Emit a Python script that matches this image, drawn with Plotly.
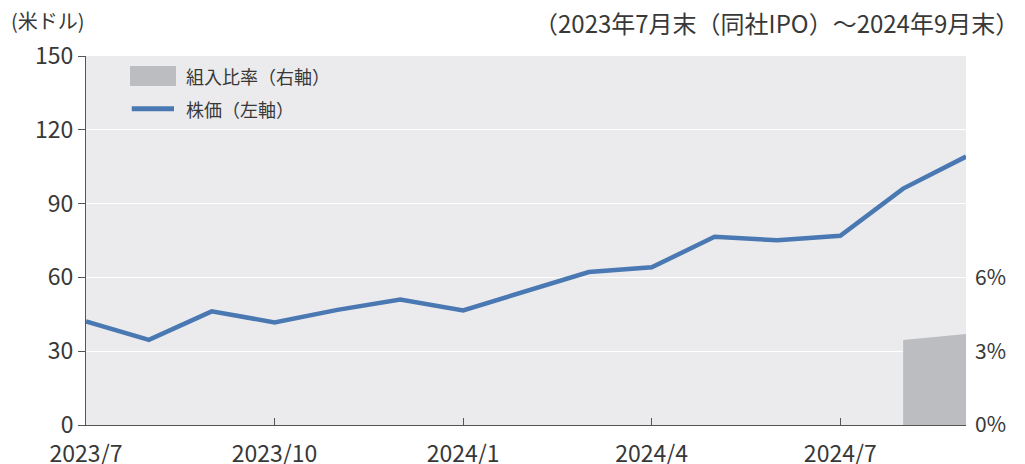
import plotly.graph_objects as go

months = ["2023/7", "2023/8", "2023/9", "2023/10", "2023/11", "2023/12",
          "2024/1", "2024/2", "2024/3", "2024/4", "2024/5", "2024/6",
          "2024/7", "2024/8", "2024/9"]
price = [42.1, 34.6, 46.2, 41.7, 46.8, 51.0, 46.6, 54.3, 62.2, 64.1,
         76.5, 75.1, 76.9, 96.1, 109.1]
weight_months = ["2024/8", "2024/9"]
weight = [3.46, 3.7]

x_ticks = ["2023/7", "2023/10", "2024/1", "2024/4", "2024/7"]
left_ticks = [0, 30, 60, 90, 120, 150]
right_ticks = [0, 3, 6]

FONT = "Noto Sans CJK JP"
TXT = "#383838"
LINE_C = "#4A78B2"
AREA_C = "#BCBDC1"

fig = go.Figure()
fig.add_trace(go.Scatter(x=weight_months, y=weight, yaxis="y2", mode="lines",
                         line=dict(width=0, color=AREA_C), fill="tozeroy",
                         fillcolor=AREA_C, showlegend=False, hoverinfo="skip"))
fig.add_trace(go.Scatter(x=months, y=price, mode="lines",
                         line=dict(width=4.5, color=LINE_C), showlegend=False))

fig.update_layout(
    width=1017, height=456,
    margin=dict(l=78, r=59, t=48, b=39, autoexpand=False),
    paper_bgcolor="white", plot_bgcolor="#EBEBED",
    font=dict(family=FONT, color=TXT, size=20),
    xaxis=dict(type="category", categoryorder="array", categoryarray=months,
               range=[0, 14], tickvals=x_ticks, ticktext=x_ticks,
               ticks="inside", ticklen=7, tickcolor="#555555",
               showline=True, linecolor="#555555", linewidth=1,
               showgrid=False, automargin=False, ticklabelstandoff=8,
               tickfont=dict(size=23, color=TXT)),
    yaxis=dict(range=[0, 150], tickvals=left_ticks, ticks="outside", ticklen=7,
               tickcolor="#555555", showline=True, linecolor="#555555",
               linewidth=1, gridcolor="white", gridwidth=1.2, zeroline=False,
               automargin=False, tickfont=dict(size=23, color=TXT)),
    yaxis2=dict(range=[0, 15], overlaying="y", side="right",
                tickvals=right_ticks, ticktext=[f"{v}%" for v in right_ticks],
                showgrid=False, zeroline=False, showline=False, ticks="",
                automargin=False, ticklabelstandoff=8,
                tickfont=dict(size=21, color=TXT)),
)

# legend (manual)
fig.add_shape(type="rect", xref="paper", yref="paper", x0=0.05, x1=0.1023,
              y0=0.919, y1=0.973, fillcolor=AREA_C, line=dict(width=0))
fig.add_shape(type="line", xref="paper", yref="paper", x0=0.052, x1=0.1,
              y0=0.857, y1=0.857, line=dict(color=LINE_C, width=5))
fig.add_annotation(text="組入比率（右軸）", xref="paper", yref="paper",
                   x=0.111, y=0.946, xanchor="left", yanchor="middle",
                   showarrow=False, font=dict(size=18, color=TXT))
fig.add_annotation(text="株価（左軸）", xref="paper", yref="paper",
                   x=0.111, y=0.857, xanchor="left", yanchor="middle",
                   showarrow=False, font=dict(size=18, color=TXT))

fig.add_annotation(text="(米ドル)", xref="paper", yref="paper",
                   x=-0.088, y=1.095, xanchor="left", yanchor="middle",
                   showarrow=False, font=dict(size=20, color=TXT))
fig.add_annotation(text="（2023年7月末（同社IPO）～2024年9月末）", xref="paper",
                   yref="paper", x=1.062, y=1.092, xanchor="right",
                   yanchor="middle", showarrow=False,
                   font=dict(size=24, color=TXT))

fig.write_html("out.html")
